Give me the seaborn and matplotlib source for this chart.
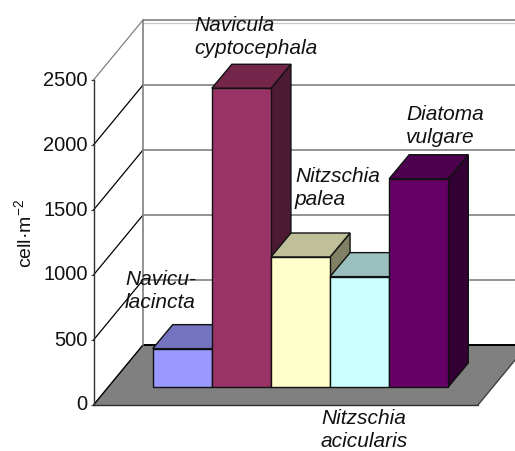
import matplotlib
matplotlib.use('Agg')
import matplotlib.pyplot as plt
import matplotlib.transforms as mtrans
import numpy as np
import pandas as pd
import seaborn as sns
from matplotlib.patches import Polygon

species = ['Navicu-\nlacincta', 'Navicula\ncyptocephala', 'Nitzschia\npalea',
           'Nitzschia\nacicularis', 'Diatoma\nvulgare']
counts = [295, 2298, 1000, 849, 1602]
front_colors = ['#9999FF', '#993366', '#FFFFCC', '#CCFFFF', '#660066']
top_colors = ['#7373BF', '#732649', '#BFBF99', '#99BFBF', '#4D004D']
side_colors = ['#4D4D80', '#4D1A33', '#808066', '#668080', '#330033']
value_ticks = [0, 500, 1000, 1500, 2000, 2500]

W, H = 515, 451
sns.set_style('white')
plt.rcParams['font.family'] = ['Liberation Sans', 'DejaVu Sans']
plt.rcParams['mathtext.default'] = 'regular'
plt.rcParams['text.color'] = '#111111'
plt.rcParams['ytick.labelcolor'] = '#111111'

# px to data scale of the bar plane
px_cat = 1 / 59.12
px_val = 2500 / 325.0

# depth of one bar, and of the whole floor
bar_dx, bar_dy = 20 * px_cat, 24 * px_val
back_dx, back_dy = 49.5 * px_cat, 60 * px_val
front_x0 = -0.5 - 59.2 * px_cat
front_x1 = -0.5 + (478 - 152.7) * px_cat
front_y = -18 * px_val

fig = plt.figure(figsize=(W / 100, H / 100), dpi=100)
ax = fig.add_axes([152.7 / W, (H - 387) / H, 295.6 / W, 325 / H])

df = pd.DataFrame({'species': species, 'count': counts})
sns.barplot(data=df, x='species', y='count', hue='species', order=species,
            hue_order=species, palette=front_colors, width=1, dodge=False,
            saturation=1, legend=False, edgecolor='#111111', linewidth=1.0,
            ax=ax, zorder=5)
ax.set_xlim(-0.5, 4.5)
ax.set_ylim(0, 2500)
ax.axis('off')

# floor
ax.add_patch(Polygon([(front_x0, front_y), (front_x1, front_y),
                      (front_x1 + back_dx, front_y + back_dy),
                      (front_x0 + back_dx, front_y + back_dy)],
                     closed=True, fc='#808080', ec='none', clip_on=False, zorder=1))
ax.plot([front_x0, front_x1], [front_y, front_y], color='#303030', lw=1,
        clip_on=False, zorder=2)
ax.plot([front_x0, front_x0 + back_dx], [front_y, front_y + back_dy],
        color='#606060', lw=1, clip_on=False, zorder=2)
ax.plot([front_x1, front_x1 + back_dx], [front_y, front_y + back_dy],
        color='#404040', lw=1, clip_on=False, zorder=2)
ax.plot([front_x0 + back_dx, front_x1 + back_dx], [front_y + back_dy] * 2,
        color='black', lw=1.4, clip_on=False, zorder=2)

# walls
for v in value_ticks:
    y = front_y + v
    col = '#808080' if v == 2500 else 'black'
    ax.plot([front_x0, front_x0 + back_dx], [y, y + back_dy], color=col, lw=0.9,
            clip_on=False, zorder=2)
    if v > 0:
        ax.plot([front_x0 + back_dx, front_x1 + back_dx], [y + back_dy] * 2,
                color='#808080', lw=1.2, clip_on=False, zorder=2)
ax.plot([front_x0 + back_dx, front_x1 + back_dx],
        [front_y + 2500 + back_dy - 3 * px_val] * 2, color='#C8C8C8', lw=0.9,
        clip_on=False, zorder=2)
ax.plot([front_x0 + back_dx] * 2, [front_y + back_dy, front_y + 2500 + back_dy],
        color='#808080', lw=1.2, clip_on=False, zorder=2)

# side and top faces, left to right so that later bars cover earlier ones
for i, (p, v) in enumerate(zip(ax.patches, counts)):
    x0, x1 = p.get_x(), p.get_x() + p.get_width()
    z = 5 + 2 * i
    side = [(x1, 0), (x1 + bar_dx, bar_dy), (x1 + bar_dx, v + bar_dy), (x1, v)]
    top = [(x0, v), (x1, v), (x1 + bar_dx, v + bar_dy), (x0 + bar_dx, v + bar_dy)]
    ax.add_patch(Polygon(side, closed=True, fc=side_colors[i], ec='#111111', lw=1.0,
                         clip_on=False, zorder=z))
    ax.add_patch(Polygon(top, closed=True, fc=top_colors[i], ec='#111111', lw=1.0,
                         clip_on=False, zorder=z))
    p.set_zorder(z + 1)
    p.set_clip_on(False)

# value axis
ax2 = fig.add_axes([93.5 / W, (H - 405) / H, 1 / W, 325 / H])
ax2.patch.set_visible(False)
ax2.set_ylim(0, 2500)
ax2.set_xticks([])
ax2.set_yticks(value_ticks)
ax2.tick_params(axis='y', labelsize=14.5, length=2.5, width=0.9, color='#404040',
                pad=1.8, left=True)
sns.despine(ax=ax2, top=True, right=True, bottom=True)
ax2.spines['left'].set_color('#303030')
ax2.spines['left'].set_linewidth(1.0)
shift = mtrans.Affine2D().translate(0, 2)
for lab in ax2.get_yticklabels():
    lab.set_transform(lab.get_transform() + shift)

fig.text(24 / W, 1 - 233 / H, 'cell·m$^{-2}$', rotation=90, ha='center', va='center',
         fontsize=14)

label_pos = [(125, 291), (194, 37), (295, 188), (321, 430), (406, 126)]
for name, (px, py) in zip(species, label_pos):
    fig.text(px / W, 1 - py / H, name, style='italic', fontsize=15, ha='left',
             va='center', linespacing=1.25)

fig.savefig('out.png', dpi=100)
